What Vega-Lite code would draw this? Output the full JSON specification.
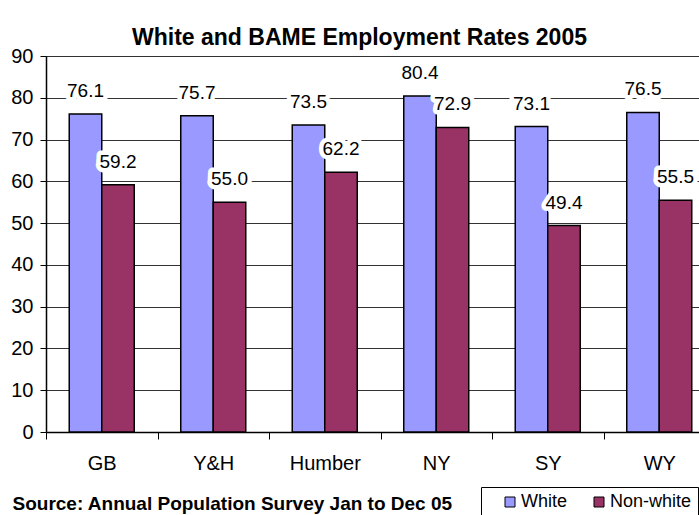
{
  "$schema": "https://vega.github.io/schema/vega-lite/v6.json",
  "width": 653,
  "height": 376,
  "autosize": {"type": "none"},
  "padding": {"left": 46, "top": 56, "right": 0, "bottom": 83},
  "background": "white",
  "config": {
    "font": "Liberation Sans",
    "view": {"stroke": "#808080", "strokeWidth": 1}
  },
  "title": {
    "text": "White and BAME Employment Rates 2005",
    "font": "Liberation Sans",
    "fontSize": 23,
    "fontWeight": "bold",
    "color": "black",
    "anchor": "middle",
    "dx": -13,
    "offset": -22,
    "baseline": "alphabetic"
  },
  "data": {
    "values": [
      {"region": "GB", "series": "White", "value": 76.1},
      {"region": "GB", "series": "Non-white", "value": 59.2},
      {"region": "Y&H", "series": "White", "value": 75.7},
      {"region": "Y&H", "series": "Non-white", "value": 55.0},
      {"region": "Humber", "series": "White", "value": 73.5},
      {"region": "Humber", "series": "Non-white", "value": 62.2},
      {"region": "NY", "series": "White", "value": 80.4},
      {"region": "NY", "series": "Non-white", "value": 72.9},
      {"region": "SY", "series": "White", "value": 73.1},
      {"region": "SY", "series": "Non-white", "value": 49.4},
      {"region": "WY", "series": "White", "value": 76.5},
      {"region": "WY", "series": "Non-white", "value": 55.5}
    ]
  },
  "encoding": {
    "x": {
      "field": "region",
      "type": "nominal",
      "sort": null,
      "scale": {"range": [0, 669], "paddingInner": 0, "paddingOuter": 0},
      "axis": {
        "title": "Source: Annual Population Survey Jan to Dec 05",
        "titleFont": "Liberation Sans",
        "titleFontSize": 19,
        "titleFontWeight": "bold",
        "titleColor": "black",
        "titleAnchor": "start",
        "titleAlign": "left",
        "titleX": -34,
        "titleY": 77,
        "titleBaseline": "alphabetic",
        "labelAngle": 0,
        "labelFontSize": 20,
        "labelColor": "black",
        "labelPadding": 14,
        "tickSize": 7,
        "tickColor": "black",
        "tickWidth": 1,
        "tickBand": "extent",
        "domainColor": "black",
        "domainWidth": 1.5,
        "grid": false
      }
    },
    "xOffset": {
      "field": "series",
      "type": "nominal",
      "sort": ["White", "Non-white"],
      "scale": {"paddingInner": 0, "paddingOuter": 0.715}
    },
    "y": {
      "field": "value",
      "type": "quantitative",
      "scale": {"domain": [0, 90], "nice": false},
      "axis": {
        "title": null,
        "values": [0, 10, 20, 30, 40, 50, 60, 70, 80, 90],
        "grid": true,
        "gridColor": "#333333",
        "gridWidth": 1,
        "labelFontSize": 20,
        "labelColor": "black",
        "labelPadding": 7,
        "tickSize": 6,
        "tickColor": "black",
        "domainColor": "black",
        "domainWidth": 1.5
      }
    }
  },
  "layer": [
    {
      "mark": {"type": "bar", "stroke": "black", "strokeWidth": 1.5},
      "encoding": {
        "color": {
          "field": "series",
          "type": "nominal",
          "scale": {"domain": ["White", "Non-white"], "range": ["#9999FF", "#993366"]},
          "legend": {
            "title": null,
            "orient": "none",
            "legendX": 435,
            "legendY": 431,
            "direction": "horizontal",
            "strokeColor": "black",
            "fillColor": "white",
            "padding": 6,
            "symbolType": "square",
            "symbolSize": 100,
            "symbolStrokeColor": "black",
            "symbolStrokeWidth": 1,
            "labelFontSize": 18,
            "labelColor": "black",
            "labelOffset": 2,
            "columnPadding": 8,
            "symbolOffset": 14
          }
        }
      }
    },
    {
      "mark": {
        "type": "text",
        "dy": -17,
        "baseline": "alphabetic",
        "fontSize": 19,
        "fill": "white",
        "stroke": "white",
        "strokeWidth": 9,
        "strokeJoin": "round"
      },
      "encoding": {
        "text": {"field": "value", "type": "quantitative", "format": ".1f"}
      }
    },
    {
      "mark": {
        "type": "text",
        "dy": -17,
        "baseline": "alphabetic",
        "fontSize": 19,
        "color": "black"
      },
      "encoding": {
        "text": {"field": "value", "type": "quantitative", "format": ".1f"}
      }
    }
  ]
}
